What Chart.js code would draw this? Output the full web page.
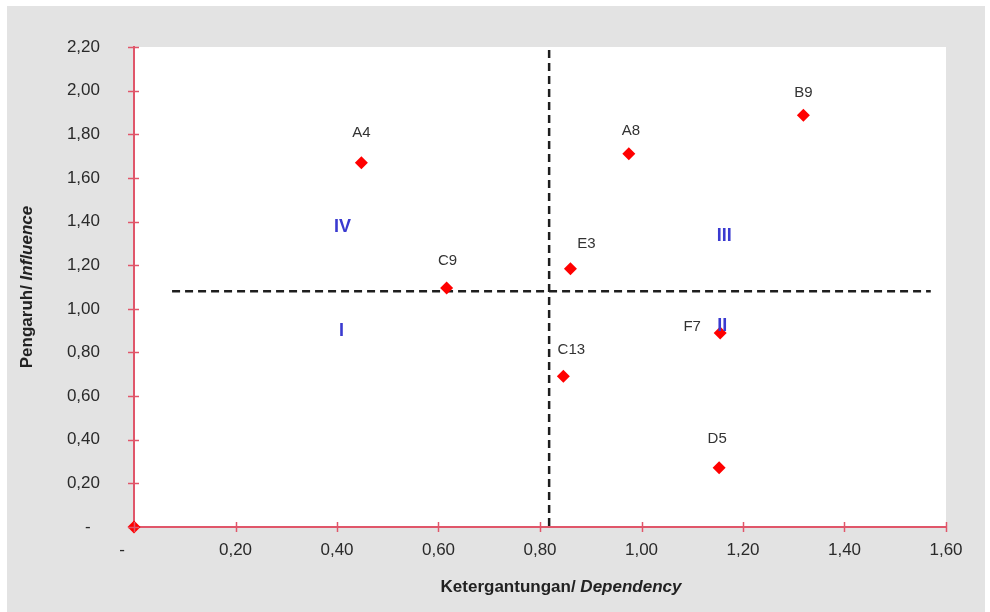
<!DOCTYPE html>
<html>
<head>
<meta charset="utf-8">
<script src="https://cdn.jsdelivr.net/npm/chart.js@4/dist/chart.umd.min.js"></script>
<style>
html,body{margin:0;padding:0;background:#fff;}
#wrap{width:990px;height:612px;position:relative;}
</style>
</head>
<body>
<div id="wrap"><canvas id="c" width="990" height="612"></canvas></div>
<script>
// ---- data ----
const pointNames = ['', 'A4', 'A8', 'B9', 'C9', 'E3', 'F7', 'C13', 'D5'];
const dependency = [0, 0.448, 0.975, 1.319, 0.616, 0.860, 1.155, 0.846, 1.153];
const influence  = [0, 1.670, 1.711, 1.887, 1.095, 1.184, 0.889, 0.691, 0.271];
const dependencyCut = 0.818;
const influenceCut = 1.080;
const xTicks = [0, 0.2, 0.4, 0.6, 0.8, 1.0, 1.2, 1.4, 1.6];
const yTicks = [0, 0.2, 0.4, 0.6, 0.8, 1.0, 1.2, 1.4, 1.6, 1.8, 2.0, 2.2];
const quadrantNames = ['IV', 'III', 'I', 'II'];
const quadrantX = [0.411, 1.163, 0.409, 1.159];
const quadrantY = [1.373, 1.332, 0.896, 0.919];
const xTitle = ['Ketergantungan/ ', 'Dependency'];
const yTitle = ['Pengaruh/ ', 'Influence'];

// label placement (style only)
const labelOffsets = {
  'A4': [0, -30], 'A8': [2, -23], 'B9': [0, -22], 'C9': [1, -27],
  'E3': [16, -25], 'F7': [-28, -6], 'C13': [8, -26], 'D5': [-2, -29]
};

const fmt = v => v === 0 ? '-' : v.toFixed(2).replace('.', ',');
const AXIS_RED = '#e0566a';
const FONT = '"Liberation Sans", Arial, sans-serif';

const bgPlugin = {
  id: 'bg',
  beforeDraw(chart) {
    const ctx = chart.ctx, a = chart.chartArea;
    ctx.save();
    ctx.fillStyle = '#ffffff';
    ctx.fillRect(0, 0, chart.width, chart.height);
    ctx.fillStyle = '#e3e3e3';
    ctx.fillRect(7, 6, 978, 606);
    ctx.fillStyle = '#ffffff';
    ctx.fillRect(a.left, a.top, a.right - a.left, a.bottom - a.top);
    ctx.restore();
  }
};

const decorPlugin = {
  id: 'decor',
  afterDatasetsDraw(chart) {
    const ctx = chart.ctx, xs = chart.scales.x, ys = chart.scales.y, a = chart.chartArea;
    ctx.save();
    // crossing ticks
    ctx.strokeStyle = AXIS_RED;
    ctx.lineWidth = 1.5;
    xTicks.forEach(v => {
      const px = Math.round(xs.getPixelForValue(v)) + 0.5;
      ctx.beginPath(); ctx.moveTo(px, a.bottom - 5); ctx.lineTo(px, a.bottom + 5); ctx.stroke();
    });
    yTicks.forEach(v => {
      const py = Math.round(ys.getPixelForValue(v)) + 0.5;
      ctx.beginPath(); ctx.moveTo(a.left - 6, py); ctx.lineTo(a.left + 5, py); ctx.stroke();
    });
    // point labels
    ctx.fillStyle = '#333333';
    ctx.font = '15px ' + FONT;
    ctx.textAlign = 'center';
    ctx.textBaseline = 'middle';
    pointNames.forEach((n, i) => {
      if (!n) return;
      const off = labelOffsets[n] || [0, -25];
      ctx.fillText(n, xs.getPixelForValue(dependency[i]) + off[0], ys.getPixelForValue(influence[i]) + off[1]);
    });
    // quadrant labels
    ctx.fillStyle = '#3a3ad0';
    ctx.font = 'bold 18px ' + FONT;
    quadrantNames.forEach((n, i) => {
      ctx.fillText(n, xs.getPixelForValue(quadrantX[i]), ys.getPixelForValue(quadrantY[i]));
    });
    ctx.restore();
  },
  afterDraw(chart) {
    const ctx = chart.ctx;
    ctx.save();
    ctx.fillStyle = '#222222';
    ctx.textBaseline = 'middle';
    const f1 = 'bold 17px ' + FONT, f2 = 'italic bold 17px ' + FONT;
    // x title
    ctx.font = f1; const w1 = ctx.measureText(xTitle[0]).width;
    ctx.font = f2; const w2 = ctx.measureText(xTitle[1]).width;
    let x0 = 561 - (w1 + w2) / 2;
    ctx.textAlign = 'left';
    ctx.font = f1; ctx.fillText(xTitle[0], x0, 587);
    ctx.font = f2; ctx.fillText(xTitle[1], x0 + w1, 587);
    // y title
    ctx.translate(27, 287);
    ctx.rotate(-Math.PI / 2);
    ctx.font = f1; const v1 = ctx.measureText(yTitle[0]).width;
    ctx.font = f2; const v2 = ctx.measureText(yTitle[1]).width;
    const s0 = -(v1 + v2) / 2;
    ctx.font = f1; ctx.fillText(yTitle[0], s0, 0);
    ctx.font = f2; ctx.fillText(yTitle[1], s0 + v1, 0);
    ctx.restore();
  }
};

const pts = dependency.map((d, i) => ({x: d, y: influence[i]}));

new Chart(document.getElementById('c'), {
  type: 'scatter',
  data: {
    datasets: [
      {
        label: 'cutV',
        data: [{x: dependencyCut, y: 0.005}, {x: dependencyCut, y: 2.2}],
        showLine: true, borderColor: '#1e1e1e', borderWidth: 2.5, borderDash: [8, 5],
        pointRadius: 0, order: 2
      },
      {
        label: 'cutH',
        data: [{x: 0.075, y: influenceCut}, {x: 1.57, y: influenceCut}],
        showLine: true, borderColor: '#1e1e1e', borderWidth: 2.5, borderDash: [8, 5],
        pointRadius: 0, order: 2
      },
      {
        label: 'points',
        data: pts,
        pointStyle: 'rectRot', pointRadius: 6.5, pointHoverRadius: 6.5,
        backgroundColor: '#ff0000', borderColor: '#ff0000', borderWidth: 0,
        clip: false, order: 1
      }
    ]
  },
  options: {
    responsive: false,
    animation: false,
    devicePixelRatio: 1,
    layout: {padding: {left: 0, right: 44, top: 47, bottom: 0}},
    plugins: {legend: {display: false}, tooltip: {enabled: false}},
    scales: {
      x: {
        type: 'linear', min: 0, max: 1.6,
        afterBuildTicks(s) { s.ticks = xTicks.map(v => ({value: v})); },
        afterFit(s) { s.height = 85; },
        grid: {display: false},
        border: {display: true, color: AXIS_RED, width: 2},
        ticks: {
          callback: v => v === 0 ? '-     ' : fmt(v), color: '#2a2a2a', padding: 5,
          font: {family: FONT, size: 17}, maxRotation: 0, autoSkip: false
        }
      },
      y: {
        type: 'linear', min: 0, max: 2.2,
        afterBuildTicks(s) { s.ticks = yTicks.map(v => ({value: v})); },
        afterFit(s) { s.width = 134; },
        grid: {display: false},
        border: {display: true, color: AXIS_RED, width: 2},
        ticks: {
          callback: v => v === 0 ? '-  ' : fmt(v), color: '#2a2a2a', padding: 26,
          font: {family: FONT, size: 17}, autoSkip: false
        }
      }
    }
  },
  plugins: [bgPlugin, decorPlugin]
});
</script>
</body>
</html>
